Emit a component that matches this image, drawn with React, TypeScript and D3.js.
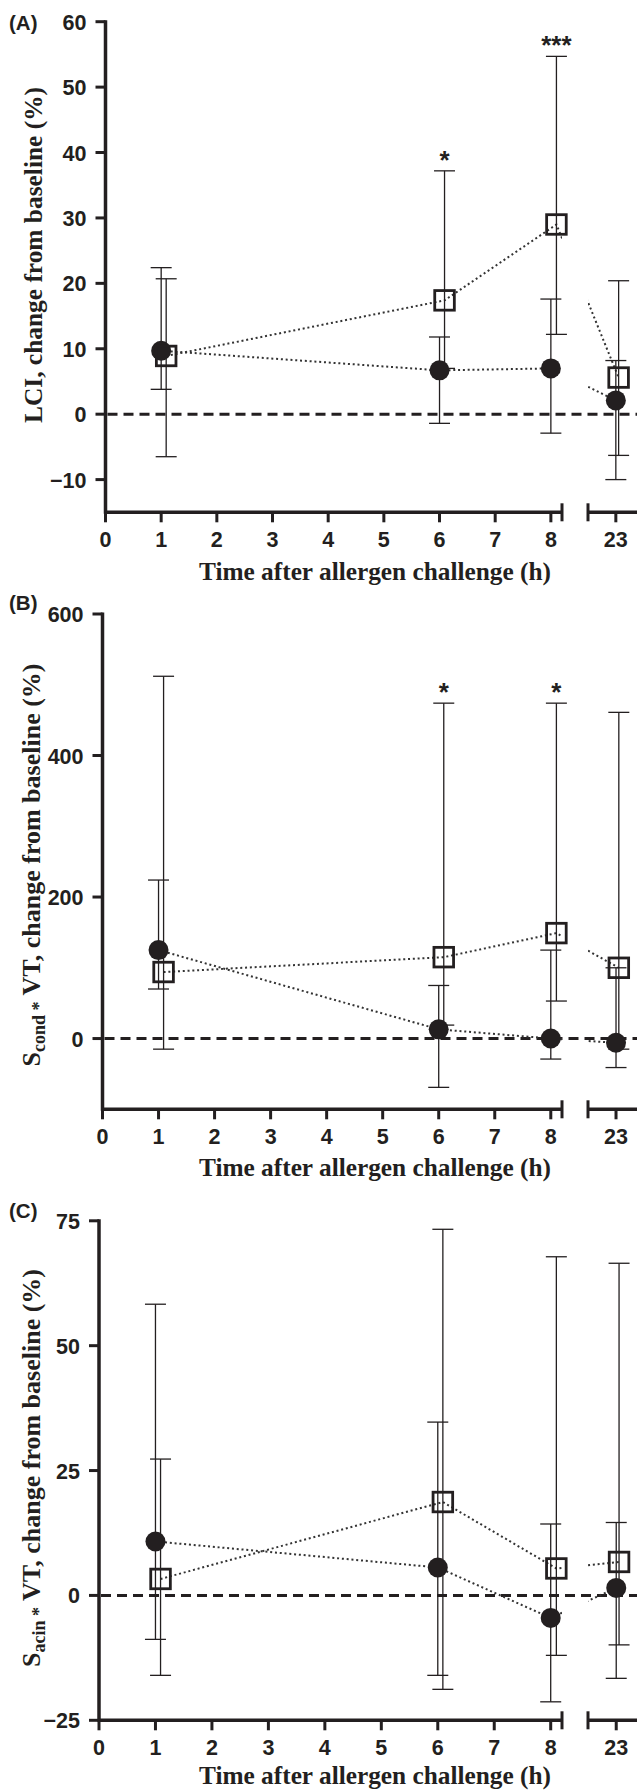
import * as d3 from "d3";

// time points (h); squares are nudged right a little, as in the figure
const circleHours = [1, 6, 8, 23];
const squareHours = [1.09, 6.09, 8.1, 23.05];

// x axis ticks
const xTicks = [0, 1, 2, 3, 4, 5, 6, 7, 8];
const xBreakTicks = [23];

// (A) LCI
const lciTicks = [-10, 0, 10, 20, 30, 40, 50, 60];
const lciCircle = [9.7, 6.7, 7.0, 2.1];
const lciCircleLo = [3.8, -1.4, -2.9, -10.0];
const lciCircleHi = [22.4, 11.8, 17.6, 8.2];
const lciSquare = [8.9, 17.4, 29.0, 5.6];
const lciSquareLo = [-6.5, 7.0, 12.2, -6.3];
const lciSquareHi = [20.7, 37.2, 54.7, 20.4];
const lciSig = ["", "*", "***", ""];

// (B) Scond * VT
const scondTicks = [0, 200, 400, 600];
const scondCircle = [125, 13, 0, -6];
const scondCircleLo = [70, -69, -29, -41];
const scondCircleHi = [224, 75, 125, 100];
const scondSquare = [94, 115, 149, 100];
const scondSquareLo = [-15, 19, 53, -15];
const scondSquareHi = [512, 474, 474, 461];
const scondSig = ["", "*", "*", ""];

// (C) Sacin * VT
const sacinTicks = [-25, 0, 25, 50, 75];
const sacinCircle = [10.8, 5.6, -4.5, 1.5];
const sacinCircleLo = [-8.8, -16.0, -21.3, -16.6];
const sacinCircleHi = [58.3, 34.7, 14.3, 14.6];
const sacinSquare = [3.3, 18.7, 5.4, 6.7];
const sacinSquareLo = [-16.0, -18.8, -12.0, -9.9];
const sacinSquareHi = [27.3, 73.3, 67.8, 66.5];
const sacinSig = ["", "", "", ""];

const W = 637;
const H = 1792;
const INK = "#231f20";
const SANS = "'Liberation Sans', Arial, sans-serif";
const SERIF = "'Liberation Serif', 'Times New Roman', serif";

// broken x axis: 0..8.2 then 22.5..23.5
const SEG1_END = 8.2;
const SEG2_START = 22.5;
const SEG2_END = 23.5;
const SEG1_RIGHT = 562;
const SEG2_LEFT = 588;

const panels = [
  {
    id: "a",
    label: "(A)",
    labelY: 29.5,
    x0: 105.5,
    yDomain: [-15, 60],
    yRange: [512.3, 21.7],
    ticks: lciTicks,
    circle: lciCircle,
    circleLo: lciCircleLo,
    circleHi: lciCircleHi,
    square: lciSquare,
    squareLo: lciSquareLo,
    squareHi: lciSquareHi,
    sig: lciSig,
    titleX: 42,
    titleY: 255,
    xTitleDy: 67.5,
    title: "LCI",
    sub: null,
  },
  {
    id: "b",
    label: "(B)",
    labelY: 610,
    x0: 102.5,
    yDomain: [-100, 600],
    yRange: [1109.3, 614],
    ticks: scondTicks,
    circle: scondCircle,
    circleLo: scondCircleLo,
    circleHi: scondCircleHi,
    square: scondSquare,
    squareLo: scondSquareLo,
    squareHi: scondSquareHi,
    sig: scondSig,
    titleX: 40,
    titleY: 865,
    xTitleDy: 67,
    title: "S",
    sub: "cond",
  },
  {
    id: "c",
    label: "(C)",
    labelY: 1217.5,
    x0: 99,
    yDomain: [-25, 75],
    yRange: [1720.3, 1220.8],
    ticks: sacinTicks,
    circle: sacinCircle,
    circleLo: sacinCircleLo,
    circleHi: sacinCircleHi,
    square: sacinSquare,
    squareLo: sacinSquareLo,
    squareHi: sacinSquareHi,
    sig: sacinSig,
    titleX: 40,
    titleY: 1468,
    xTitleDy: 63.5,
    title: "S",
    sub: "acin",
  },
];

const fmt = (v: number) => (v < 0 ? "\u2212" + Math.abs(v) : String(v));

function ErrorBar({ x, y1, y2 }: { x: number; y1: number; y2: number }) {
  const cap = 10.5;
  return (
    <g stroke={INK} strokeWidth={1.3}>
      <line x1={x} x2={x} y1={y1} y2={y2} />
      <line x1={x - cap} x2={x + cap} y1={y1} y2={y1} />
      <line x1={x - cap} x2={x + cap} y1={y2} y2={y2} />
    </g>
  );
}

function Panel({ p }: { p: any }) {
  const y = d3.scaleLinear().domain(p.yDomain).range(p.yRange);
  const x1 = d3.scaleLinear().domain([0, SEG1_END]).range([p.x0, SEG1_RIGHT]);
  const unit = x1(1) - x1(0);
  const x2 = d3
    .scaleLinear()
    .domain([SEG2_START, SEG2_END])
    .range([SEG2_LEFT, SEG2_LEFT + unit * (SEG2_END - SEG2_START)]);
  const xp = (t: number) => (t <= SEG1_END ? x1(t) : x2(t));
  const axisY = y(p.yDomain[0]);
  const topY = y(p.yDomain[1]);

  const line = d3
    .line<[number, number]>()
    .x((d) => d[0])
    .y((d) => d[1]);
  const circlePts = circleHours.map((h, i) => [xp(h), y(p.circle[i])] as [number, number]);
  const squarePts = squareHours.map((h, i) => [xp(h), y(p.square[i])] as [number, number]);
  const clipId = `clip-${p.id}`;

  return (
    <g>
      <defs>
        <clipPath id={clipId}>
          <rect x={p.x0} y={0} width={SEG1_RIGHT - p.x0} height={H} />
          <rect x={SEG2_LEFT} y={0} width={W} height={H} />
        </clipPath>
      </defs>

      {/* panel label */}
      <text x={9} y={p.labelY} fontFamily={SANS} fontWeight="bold" fontSize={20.5} fill={INK}>
        {p.label}
      </text>

      {/* zero line */}
      <line
        x1={p.x0 + 2}
        x2={W}
        y1={y(0)}
        y2={y(0)}
        stroke={INK}
        strokeWidth={3}
        strokeDasharray="10 6"
      />

      {/* y axis */}
      <line x1={p.x0} x2={p.x0} y1={topY - 1.5} y2={axisY + 1.5} stroke={INK} strokeWidth={3.5} />
      {p.ticks.map((t: number) => (
        <g key={t}>
          <line x1={p.x0 - 10} x2={p.x0} y1={y(t)} y2={y(t)} stroke={INK} strokeWidth={3} />
          <text
            x={p.x0 - 19}
            y={y(t) + 8}
            textAnchor="end"
            fontFamily={SANS}
            fontWeight="bold"
            fontSize={21.5}
            fill={INK}
          >
            {fmt(t)}
          </text>
        </g>
      ))}

      {/* broken x axis */}
      <line x1={p.x0} x2={SEG1_RIGHT} y1={axisY} y2={axisY} stroke={INK} strokeWidth={3.5} />
      <line x1={SEG1_RIGHT} x2={SEG1_RIGHT} y1={axisY - 9} y2={axisY + 9} stroke={INK} strokeWidth={3} />
      <line x1={SEG2_LEFT} x2={W} y1={axisY} y2={axisY} stroke={INK} strokeWidth={3.5} />
      <line x1={SEG2_LEFT} x2={SEG2_LEFT} y1={axisY - 9} y2={axisY + 9} stroke={INK} strokeWidth={3} />
      {[...xTicks, ...xBreakTicks].map((t) => (
        <g key={t}>
          <line x1={xp(t)} x2={xp(t)} y1={axisY} y2={axisY + 10} stroke={INK} strokeWidth={3} />
          <text
            x={xp(t)}
            y={axisY + 35}
            textAnchor="middle"
            fontFamily={SANS}
            fontWeight="bold"
            fontSize={21.5}
            fill={INK}
          >
            {t}
          </text>
        </g>
      ))}
      <text
        x={375}
        y={axisY + p.xTitleDy}
        textAnchor="middle"
        fontFamily={SERIF}
        fontWeight="bold"
        fontSize={26}
        textLength={352}
        lengthAdjust="spacingAndGlyphs"
        fill={INK}
      >
        Time after allergen challenge (h)
      </text>

      {/* y axis title */}
      <text
        transform={`translate(${p.titleX},${p.titleY}) rotate(-90)`}
        textAnchor="middle"
        fontFamily={SERIF}
        fontWeight="bold"
        fontSize={26}
        fill={INK}
        {...(p.sub ? {} : { textLength: 336, lengthAdjust: "spacingAndGlyphs" })}
      >
        {p.sub ? (
          <>
            <tspan>{p.title}</tspan>
            <tspan fontSize={18} dy={5}>
              {p.sub} *
            </tspan>
            <tspan dy={-5}> VT, change from baseline (%)</tspan>
          </>
        ) : (
          "LCI, change from baseline (%)"
        )}
      </text>

      {/* dotted connecting lines */}
      <g clipPath={`url(#${clipId})`} fill="none" stroke="#333" strokeWidth={2} strokeDasharray="2 2.8">
        <path d={line(circlePts) || ""} />
        <path d={line(squarePts) || ""} />
      </g>

      {/* error bars */}
      {circleHours.map((h, i) => (
        <ErrorBar key={"ce" + i} x={xp(h)} y1={y(p.circleLo[i])} y2={y(p.circleHi[i])} />
      ))}
      {squareHours.map((h, i) => (
        <ErrorBar key={"se" + i} x={xp(h)} y1={y(p.squareLo[i])} y2={y(p.squareHi[i])} />
      ))}

      {/* markers */}
      {circlePts.map((d, i) => (
        <circle key={"c" + i} cx={d[0]} cy={d[1]} r={10} fill={INK} />
      ))}
      {squarePts.map((d, i) => (
        <rect
          key={"s" + i}
          x={d[0] - 9.8}
          y={d[1] - 9.8}
          width={19.6}
          height={19.6}
          fill="none"
          stroke={INK}
          strokeWidth={2.8}
        />
      ))}

      {/* significance */}
      {squareHours.map((h, i) =>
        p.sig[i] ? (
          <text
            key={"sig" + i}
            x={xp(h)}
            y={y(p.squareHi[i]) - 2}
            textAnchor="middle"
            fontFamily={SANS}
            fontWeight="bold"
            fontSize={26}
            fill={INK}
          >
            {p.sig[i]}
          </text>
        ) : null
      )}
    </g>
  );
}

export default function App() {
  return (
    <svg
      width={W}
      height={H}
      viewBox={`0 0 ${W} ${H}`}
      style={{ position: "absolute", left: 0, top: 0, background: "#fff", display: "block" }}
    >
      <rect width={W} height={H} fill="#fff" />
      {panels.map((p) => (
        <Panel key={p.id} p={p} />
      ))}
    </svg>
  );
}
